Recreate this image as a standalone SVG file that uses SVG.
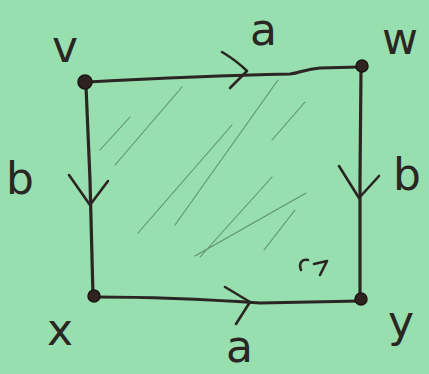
<svg xmlns="http://www.w3.org/2000/svg" width="429" height="374" viewBox="0 0 429 374">
<style>
.edge{fill:none;stroke:#2b2622;stroke-width:3.2;stroke-linecap:round;stroke-linejoin:round}
.arr{fill:none;stroke:#2b2622;stroke-width:2.6;stroke-linecap:round;stroke-linejoin:round}
.dot{fill:#2e231f;stroke:#1c1614;stroke-width:1.5}
.hatch{fill:none;stroke:#4f7f5e;stroke-width:1.1;stroke-linecap:round;opacity:0.8}
.lbl{font-family:"DejaVu Sans",sans-serif;font-size:44px;fill:#2b2622}
</style>
<rect width="429" height="374" fill="#97dfae"/>
<g id="hatching">
<path class="hatch" d="M100 150 L130 117 M115 165 L182 87 M138 233 L232 125 M175 225 L278 80 M200 257 L272 177 M195 256 L306 193 M264 250 L295 210 M272 140 L305 102"/>
</g>
<g id="connectors">
<path class="edge" d="M88 82 C160 78 240 75 290 74 C300 73 305 69 320 68 L360 67"/>
<path class="edge" d="M86 86 L90 180 L93 296"/>
<path class="edge" d="M361 70 L360 180 L360 298"/>
<path class="edge" d="M96 297 C170 297 230 301 260 303 L360 301"/>
<path class="arr" d="M222 52 C232 58 240 64 247 71 L230 88"/>
<path class="arr" d="M69 175 L90 205 L108 181"/>
<path class="arr" d="M339 166 L359 198 L379 176"/>
<path class="arr" d="M225 287 L250 302 L236 324"/>
<path class="arr" d="M301 270 C298 262 303 259 308 260 M314 264 L327 261 L320 275"/>
</g>
<g id="v"><circle class="dot" cx="85" cy="82" r="7"/><text class="lbl" x="52" y="62">v</text></g>
<g id="w"><circle class="dot" cx="362" cy="66" r="6"/><text class="lbl" x="382" y="54">w</text></g>
<g id="x"><circle class="dot" cx="94" cy="296" r="6"/><text class="lbl" x="47" y="345">x</text></g>
<g id="y"><circle class="dot" cx="361" cy="299" r="6"/><text class="lbl" x="388" y="337">y</text></g>
<g id="labels">
<text class="lbl" x="250" y="45">a</text>
<text class="lbl" x="6" y="194" font-size="48">b</text>
<text class="lbl" x="393" y="190">b</text>
<text class="lbl" x="226" y="362" font-size="40">a</text>
</g>
</svg>
